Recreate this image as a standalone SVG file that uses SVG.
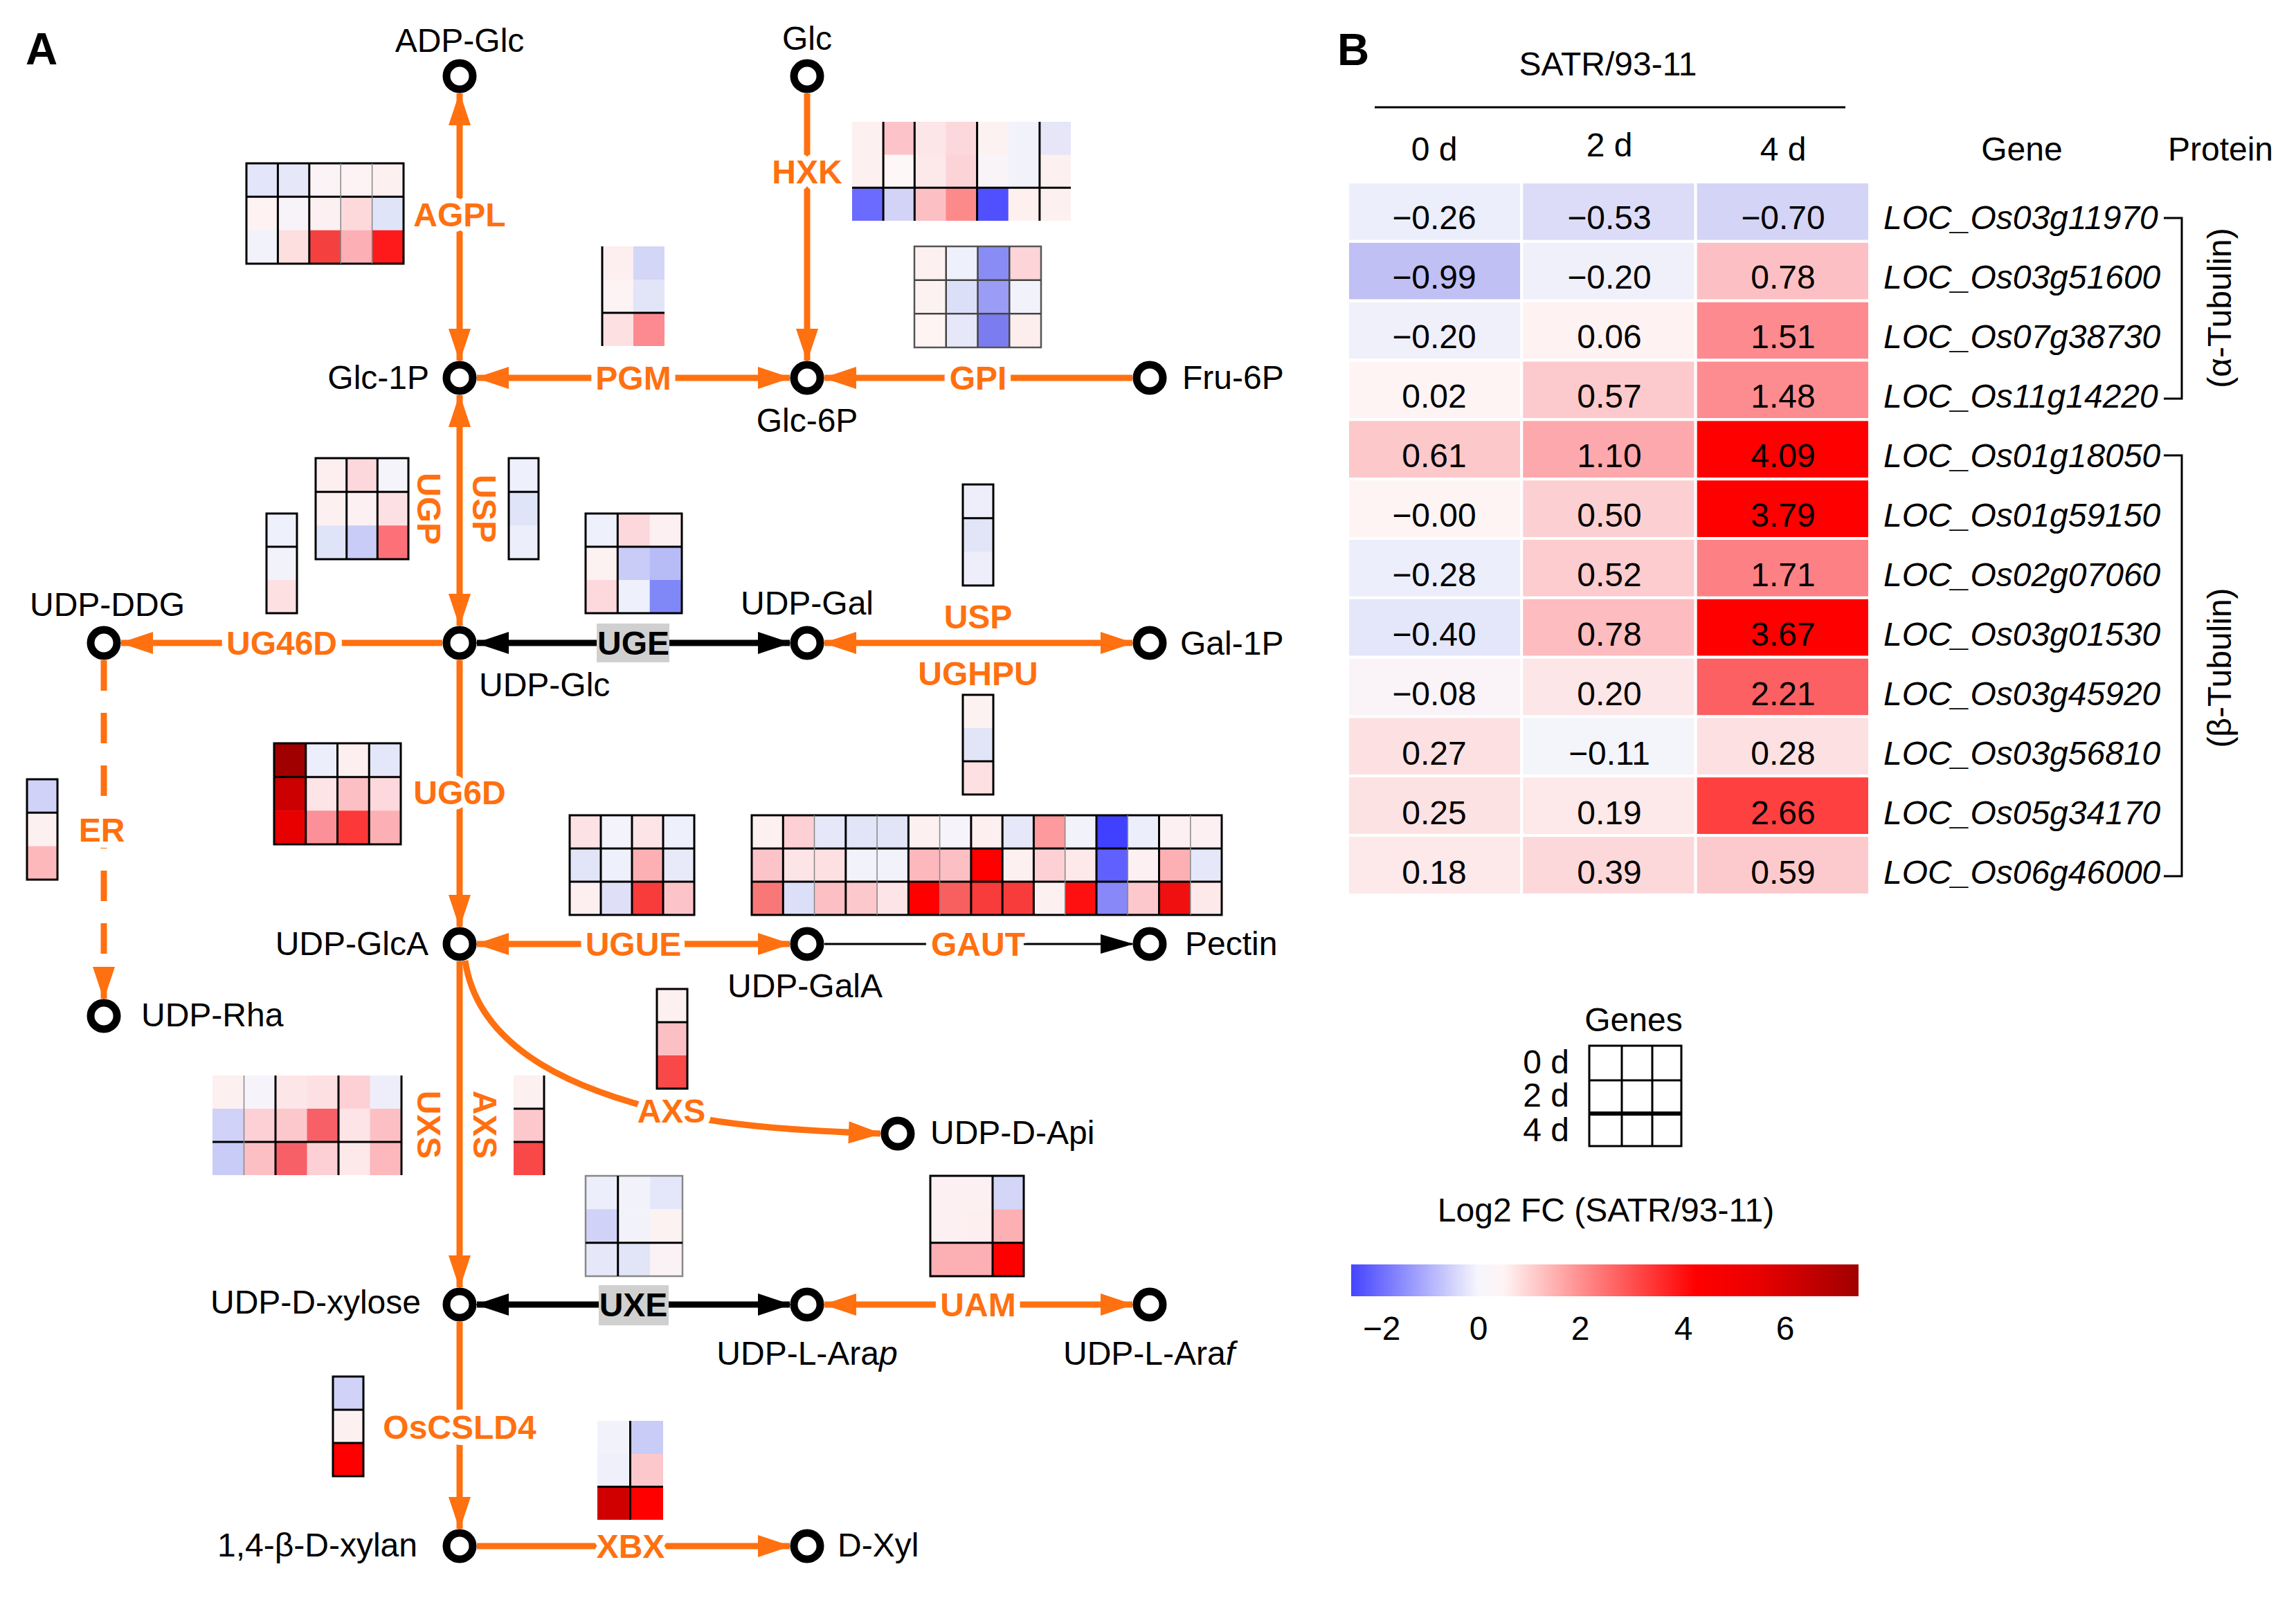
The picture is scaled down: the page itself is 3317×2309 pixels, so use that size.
<svg xmlns="http://www.w3.org/2000/svg" width="3317" height="2309" viewBox="0 0 3317 2309">
<style>
text{font-family:"Liberation Sans",Arial,sans-serif;font-size:48px;fill:#000}
.pl{font-weight:bold;font-size:64px}
.e{fill:none;stroke:#FF7010;stroke-width:9}
.k{fill:none;stroke:#000;stroke-width:9}
.en{font-weight:bold;fill:#FF7010;stroke:#fff;stroke-width:18px;paint-order:stroke;stroke-linejoin:round}
.eb{font-weight:bold;fill:#000}
.nd circle{fill:#fff;stroke:#000;stroke-width:11}
.hl{stroke:#000;stroke-width:3;fill:none}
.hg{stroke:#888;stroke-width:1.5;fill:none}
.bt rect{stroke:#fff;stroke-width:4}
.v{text-anchor:middle}
.gn{font-style:italic}
</style>
<defs>
<marker id="ao" markerUnits="userSpaceOnUse" markerWidth="50" markerHeight="34" refX="46" refY="16" orient="auto-start-reverse" overflow="visible"><path d="M0,0 L48,16 L0,32 Z" fill="#FF7010"/></marker>
<marker id="ak" markerUnits="userSpaceOnUse" markerWidth="50" markerHeight="34" refX="46" refY="16" orient="auto-start-reverse" overflow="visible"><path d="M0,0 L48,16 L0,32 Z" fill="#000"/></marker>
<marker id="as" markerUnits="userSpaceOnUse" markerWidth="50" markerHeight="30" refX="46" refY="14" orient="auto" overflow="visible"><path d="M0,0 L48,14 L0,28 Z" fill="#000"/></marker>
<linearGradient id="cb" x1="0" y1="0" x2="1" y2="0">
<stop offset="0" stop-color="#4444ff"/>
<stop offset="0.25" stop-color="#f6f6fc"/>
<stop offset="0.30" stop-color="#fff4f4"/>
<stop offset="0.45" stop-color="#ff9090"/>
<stop offset="0.68" stop-color="#ff0000"/>
<stop offset="0.8" stop-color="#ea0000"/>
<stop offset="1" stop-color="#a00000"/>
</linearGradient>
</defs>
<rect width="3317" height="2309" fill="#fff"/>
<text class="pl" x="37" y="93">A</text>
<text class="pl" x="1932" y="94">B</text>

<!-- heatmaps panel A -->
<g id="hm-agpl">
<rect x="356" y="236" width="46" height="49" fill="#e3e6fa"/><rect x="401.4" y="236" width="46" height="49" fill="#e6e8fa"/><rect x="446.8" y="236" width="46" height="49" fill="#fbf3f6"/><rect x="492.2" y="236" width="46" height="49" fill="#fdf2f4"/><rect x="537.6" y="236" width="45.4" height="49" fill="#fdf0f0"/>
<rect x="356" y="284.3" width="46" height="49" fill="#fef2f2"/><rect x="401.4" y="284.3" width="46" height="49" fill="#f7f3f8"/><rect x="446.8" y="284.3" width="46" height="49" fill="#fcf0f2"/><rect x="492.2" y="284.3" width="46" height="49" fill="#fdd9dc"/><rect x="537.6" y="284.3" width="45.4" height="49" fill="#e0e4f8"/>
<rect x="356" y="332.7" width="46" height="48.3" fill="#f2f2fb"/><rect x="401.4" y="332.7" width="46" height="48.3" fill="#fddfe0"/><rect x="446.8" y="332.7" width="46" height="48.3" fill="#f54040"/><rect x="492.2" y="332.7" width="46" height="48.3" fill="#fcb0b5"/><rect x="537.6" y="332.7" width="45.4" height="48.3" fill="#fe1a1a"/>
<rect class="hl" x="356" y="236" width="227" height="145"/>
<path class="hl" d="M401.4,236V381M446.8,236V381M356,284.3H583"/>
<path class="hg" d="M492.2,236V381M537.6,236V381"/>
</g>
<g id="hm-hxk">
<rect x="1231" y="176" width="45.6" height="48.2" fill="#fdf0f0"/><rect x="1276.1" y="176" width="45.6" height="48.2" fill="#fcc4c8"/><rect x="1321.3" y="176" width="45.6" height="48.2" fill="#fde6e8"/><rect x="1366.4" y="176" width="45.6" height="48.2" fill="#fcd8dc"/><rect x="1411.6" y="176" width="45.6" height="48.2" fill="#fdf2f2"/><rect x="1456.7" y="176" width="45.6" height="48.2" fill="#f2f2fb"/><rect x="1501.9" y="176" width="45.1" height="48.2" fill="#e6e6f8"/>
<rect x="1231" y="223.7" width="45.6" height="48.2" fill="#fdf0f0"/><rect x="1276.1" y="223.7" width="45.6" height="48.2" fill="#fef7f7"/><rect x="1321.3" y="223.7" width="45.6" height="48.2" fill="#fde8ea"/><rect x="1366.4" y="223.7" width="45.6" height="48.2" fill="#fcd4d8"/><rect x="1411.6" y="223.7" width="45.6" height="48.2" fill="#f8f4f8"/><rect x="1456.7" y="223.7" width="45.6" height="48.2" fill="#f2f2fb"/><rect x="1501.9" y="223.7" width="45.1" height="48.2" fill="#fdf0f0"/>
<rect x="1231" y="271.3" width="45.6" height="47.7" fill="#6b6bff"/><rect x="1276.1" y="271.3" width="45.6" height="47.7" fill="#d3d3f7"/><rect x="1321.3" y="271.3" width="45.6" height="47.7" fill="#fcc0c4"/><rect x="1366.4" y="271.3" width="45.6" height="47.7" fill="#fd8a8a"/><rect x="1411.6" y="271.3" width="45.6" height="47.7" fill="#5050ff"/><rect x="1456.7" y="271.3" width="45.6" height="47.7" fill="#fff0f0"/><rect x="1501.9" y="271.3" width="45.1" height="47.7" fill="#fdf0f0"/>
<path class="hl" d="M1276.1,176V319M1321.3,176V319M1411.6,176V319M1501.9,176V319M1231,271.3H1547"/>
</g>
<g id="hm-pgm">
<rect x="870" y="356" width="45.5" height="48.5" fill="#fdeef0"/><rect x="915" y="356" width="45" height="48.5" fill="#d3d6f6"/>
<rect x="870" y="404" width="45.5" height="48.5" fill="#fdf2f4"/><rect x="915" y="404" width="45" height="48.5" fill="#e2e4f8"/>
<rect x="870" y="452" width="45.5" height="48" fill="#fde0e2"/><rect x="915" y="452" width="45" height="48" fill="#fd8a90"/>
<path class="hl" d="M870,356V500M870,452H960"/>
</g>
<g id="hm-gpi">
<rect x="1321" y="356" width="46.2" height="49.1" fill="#fdf0f0"/><rect x="1366.75" y="356" width="46.2" height="49.1" fill="#eef0fb"/><rect x="1412.5" y="356" width="46.2" height="49.1" fill="#8a8cf5"/><rect x="1458.25" y="356" width="45.75" height="49.1" fill="#fdd4d8"/>
<rect x="1321" y="404.7" width="46.2" height="49.1" fill="#fdf2f2"/><rect x="1366.75" y="404.7" width="46.2" height="49.1" fill="#dcdff8"/><rect x="1412.5" y="404.7" width="46.2" height="49.1" fill="#9a9cf5"/><rect x="1458.25" y="404.7" width="45.75" height="49.1" fill="#f2f2fb"/>
<rect x="1321" y="453.3" width="46.2" height="48.7" fill="#fef4f4"/><rect x="1366.75" y="453.3" width="46.2" height="48.7" fill="#e6e8fa"/><rect x="1412.5" y="453.3" width="46.2" height="48.7" fill="#7a7cf0"/><rect x="1458.25" y="453.3" width="45.75" height="48.7" fill="#fdeeee"/>
<rect x="1321" y="356" width="183" height="146" fill="none" stroke="#555" stroke-width="2.5"/>
<path fill="none" stroke="#444" stroke-width="2.5" d="M1366.75,356V502M1412.5,356V502M1458.25,356V502M1321,404.7H1504M1321,453.3H1504"/>
</g>
<g id="hm-ugp">
<rect x="456" y="662" width="45.1" height="49.1" fill="#fdeef0"/><rect x="500.7" y="662" width="45.1" height="49.1" fill="#fcd8dc"/><rect x="545.3" y="662" width="44.7" height="49.1" fill="#f4f4fa"/>
<rect x="456" y="710.7" width="45.1" height="49.1" fill="#fdf0f0"/><rect x="500.7" y="710.7" width="45.1" height="49.1" fill="#fdf0f2"/><rect x="545.3" y="710.7" width="44.7" height="49.1" fill="#fce0e4"/>
<rect x="456" y="759.3" width="45.1" height="48.7" fill="#e0e4f8"/><rect x="500.7" y="759.3" width="45.1" height="48.7" fill="#c8ccf6"/><rect x="545.3" y="759.3" width="44.7" height="48.7" fill="#fd7078"/>
<rect class="hl" x="456" y="662" width="134" height="146"/>
<path class="hl" d="M500.7,662V808M545.3,662V808M456,710.7H590"/>
</g>
<g id="hm-usp1">
<rect x="735" y="662" width="43" height="49.1" fill="#eef0fb"/><rect x="735" y="710.7" width="43" height="49.1" fill="#e0e4f8"/><rect x="735" y="759.3" width="43" height="48.7" fill="#eceefb"/>
<rect class="hl" x="735" y="662" width="43" height="146"/><path class="hl" d="M735,710.7H778"/>
</g>
<g id="hm-ug46d">
<rect x="385" y="742" width="44" height="48.5" fill="#eef0fb"/><rect x="385" y="790" width="44" height="48.5" fill="#f2f2fb"/><rect x="385" y="838" width="44" height="48" fill="#fde0e2"/>
<rect class="hl" x="385" y="742" width="44" height="144"/><path class="hl" d="M385,790H429"/>
</g>
<g id="hm-uge">
<rect x="846" y="742" width="46.8" height="48.5" fill="#eef0fb"/><rect x="892.3" y="742" width="46.8" height="48.5" fill="#fcd8dc"/><rect x="938.7" y="742" width="46.3" height="48.5" fill="#fdf0f2"/>
<rect x="846" y="790" width="46.8" height="48.5" fill="#fdf2f2"/><rect x="892.3" y="790" width="46.8" height="48.5" fill="#c8ccf6"/><rect x="938.7" y="790" width="46.3" height="48.5" fill="#b8bcf6"/>
<rect x="846" y="838" width="46.8" height="48" fill="#fdd8dc"/><rect x="892.3" y="838" width="46.8" height="48" fill="#eef0fb"/><rect x="938.7" y="838" width="46.3" height="48" fill="#8088f8"/>
<rect class="hl" x="846" y="742" width="139" height="144"/><path class="hl" d="M892.3,742V886M846,790H985"/>
</g>
<g id="hm-usp2">
<rect x="1391" y="700" width="44" height="49.1" fill="#eeeefb"/><rect x="1391" y="748.7" width="44" height="49.1" fill="#e2e4f8"/><rect x="1391" y="797.3" width="44" height="48.7" fill="#eeeefb"/>
<rect class="hl" x="1391" y="700" width="44" height="146"/><path class="hl" d="M1391,748.7H1435"/>
</g>
<g id="hm-ughpu">
<rect x="1391" y="1004" width="44" height="48.5" fill="#fdf2f2"/><rect x="1391" y="1052" width="44" height="48.5" fill="#e2e4f8"/><rect x="1391" y="1100" width="44" height="48" fill="#fde0e2"/>
<rect class="hl" x="1391" y="1004" width="44" height="144"/><path class="hl" d="M1391,1100H1435"/>
</g>
<g id="hm-er">
<rect x="39" y="1126" width="44" height="48.8" fill="#d0d2f8"/><rect x="39" y="1174.3" width="44" height="48.8" fill="#fdf0f0"/><rect x="39" y="1222.7" width="44" height="48.3" fill="#fdb8bc"/>
<rect class="hl" x="39" y="1126" width="44" height="145"/><path class="hl" d="M39,1174.3H83"/>
</g>
<g id="hm-ug6d">
<rect x="396" y="1074" width="46.2" height="49.1" fill="#a00000"/><rect x="441.75" y="1074" width="46.2" height="49.1" fill="#eceefb"/><rect x="487.5" y="1074" width="46.2" height="49.1" fill="#fdeef0"/><rect x="533.25" y="1074" width="45.75" height="49.1" fill="#e4e6fa"/>
<rect x="396" y="1122.7" width="46.2" height="49.1" fill="#cc0000"/><rect x="441.75" y="1122.7" width="46.2" height="49.1" fill="#fde4e6"/><rect x="487.5" y="1122.7" width="46.2" height="49.1" fill="#fcc0c4"/><rect x="533.25" y="1122.7" width="45.75" height="49.1" fill="#fdd8dc"/>
<rect x="396" y="1171.3" width="46.2" height="48.7" fill="#e80000"/><rect x="441.75" y="1171.3" width="46.2" height="48.7" fill="#fc9098"/><rect x="487.5" y="1171.3" width="46.2" height="48.7" fill="#fd3838"/><rect x="533.25" y="1171.3" width="45.75" height="48.7" fill="#fcb0b4"/>
<rect class="hl" x="396" y="1074" width="183" height="146"/><path class="hl" d="M441.75,1074V1220M487.5,1074V1220M533.25,1074V1220M396,1122.7H579"/>
</g>
<g id="hm-ugue">
<rect x="823" y="1178" width="45.5" height="48.5" fill="#fde2e4"/><rect x="868" y="1178" width="45.5" height="48.5" fill="#f4f2fa"/><rect x="913" y="1178" width="45.5" height="48.5" fill="#fde4e6"/><rect x="958" y="1178" width="45" height="48.5" fill="#eef0fb"/>
<rect x="823" y="1226" width="45.5" height="48.5" fill="#e2e4f8"/><rect x="868" y="1226" width="45.5" height="48.5" fill="#eef0fb"/><rect x="913" y="1226" width="45.5" height="48.5" fill="#fcb0b4"/><rect x="958" y="1226" width="45" height="48.5" fill="#e8eafa"/>
<rect x="823" y="1274" width="45.5" height="48" fill="#fdeef0"/><rect x="868" y="1274" width="45.5" height="48" fill="#dfe0f8"/><rect x="913" y="1274" width="45.5" height="48" fill="#f83c3c"/><rect x="958" y="1274" width="45" height="48" fill="#fcc4c8"/>
<rect class="hl" x="823" y="1178" width="180" height="144"/><path class="hl" d="M868,1178V1322M913,1178V1322M958,1178V1322M823,1226H1003M823,1274H1003"/>
</g>
<g id="hm-gaut">
<rect x="1086" y="1178" width="45.8" height="48.5" fill="#fdf0f0"/><rect x="1131.3" y="1178" width="45.8" height="48.5" fill="#fcd0d4"/><rect x="1176.5" y="1178" width="45.8" height="48.5" fill="#e6e8fa"/><rect x="1221.8" y="1178" width="45.8" height="48.5" fill="#e2e4f8"/><rect x="1267.1" y="1178" width="45.8" height="48.5" fill="#e2e4f8"/><rect x="1312.4" y="1178" width="45.8" height="48.5" fill="#fdf0f0"/><rect x="1357.6" y="1178" width="45.8" height="48.5" fill="#f6f4fa"/><rect x="1402.9" y="1178" width="45.8" height="48.5" fill="#fdeef0"/><rect x="1448.2" y="1178" width="45.8" height="48.5" fill="#e6e8fa"/><rect x="1493.4" y="1178" width="45.8" height="48.5" fill="#fc9a9e"/><rect x="1538.7" y="1178" width="45.8" height="48.5" fill="#f2f2fb"/><rect x="1584" y="1178" width="45.8" height="48.5" fill="#4040ff"/><rect x="1629.2" y="1178" width="45.8" height="48.5" fill="#eceefb"/><rect x="1674.5" y="1178" width="45.8" height="48.5" fill="#fdf0f2"/><rect x="1719.8" y="1178" width="45.2" height="48.5" fill="#fdf0f2"/>
<rect x="1086" y="1226" width="45.8" height="48.5" fill="#fcc4c8"/><rect x="1131.3" y="1226" width="45.8" height="48.5" fill="#fde4e6"/><rect x="1176.5" y="1226" width="45.8" height="48.5" fill="#fde0e2"/><rect x="1221.8" y="1226" width="45.8" height="48.5" fill="#f2f2fb"/><rect x="1267.1" y="1226" width="45.8" height="48.5" fill="#f2f2fb"/><rect x="1312.4" y="1226" width="45.8" height="48.5" fill="#fcb8bc"/><rect x="1357.6" y="1226" width="45.8" height="48.5" fill="#fcc0c4"/><rect x="1402.9" y="1226" width="45.8" height="48.5" fill="#ff0000"/><rect x="1448.2" y="1226" width="45.8" height="48.5" fill="#fdf0f0"/><rect x="1493.4" y="1226" width="45.8" height="48.5" fill="#fcd0d4"/><rect x="1538.7" y="1226" width="45.8" height="48.5" fill="#fde8ea"/><rect x="1584" y="1226" width="45.8" height="48.5" fill="#6060ff"/><rect x="1629.2" y="1226" width="45.8" height="48.5" fill="#fdf0f2"/><rect x="1674.5" y="1226" width="45.8" height="48.5" fill="#fcb0b4"/><rect x="1719.8" y="1226" width="45.2" height="48.5" fill="#e6e8fa"/>
<rect x="1086" y="1274" width="45.8" height="48" fill="#f87878"/><rect x="1131.3" y="1274" width="45.8" height="48" fill="#dcdff8"/><rect x="1176.5" y="1274" width="45.8" height="48" fill="#fcc0c4"/><rect x="1221.8" y="1274" width="45.8" height="48" fill="#fcc8cc"/><rect x="1267.1" y="1274" width="45.8" height="48" fill="#fde4e6"/><rect x="1312.4" y="1274" width="45.8" height="48" fill="#ff0000"/><rect x="1357.6" y="1274" width="45.8" height="48" fill="#f86060"/><rect x="1402.9" y="1274" width="45.8" height="48" fill="#f83c3c"/><rect x="1448.2" y="1274" width="45.8" height="48" fill="#f83c3c"/><rect x="1493.4" y="1274" width="45.8" height="48" fill="#fdf0f0"/><rect x="1538.7" y="1274" width="45.8" height="48" fill="#ff1010"/><rect x="1584" y="1274" width="45.8" height="48" fill="#8888f8"/><rect x="1629.2" y="1274" width="45.8" height="48" fill="#fcc8cc"/><rect x="1674.5" y="1274" width="45.8" height="48" fill="#f01010"/><rect x="1719.8" y="1274" width="45.2" height="48" fill="#fde8ea"/>
<rect class="hl" x="1086" y="1178" width="679" height="144"/>
<path class="hl" d="M1131.3,1178V1322M1221.8,1178V1322M1312.4,1178V1322M1402.9,1178V1322M1448.2,1178V1322M1493.4,1178V1322M1584,1178V1322M1674.5,1178V1322M1086,1226H1765M1086,1274H1765"/>
<path class="hg" d="M1176.5,1178V1322M1267.1,1178V1322M1357.6,1178V1322M1538.7,1178V1322M1629.2,1178V1322M1719.8,1178V1322"/>
</g>
<g id="hm-axs1">
<rect x="949" y="1429" width="44" height="48.5" fill="#fdf0f0"/><rect x="949" y="1477" width="44" height="48.5" fill="#fcc0c4"/><rect x="949" y="1525" width="44" height="48" fill="#f84848"/>
<rect class="hl" x="949" y="1429" width="44" height="144"/><path class="hl" d="M949,1477H993"/>
</g>
<g id="hm-uxs">
<rect x="307" y="1554" width="46" height="48.5" fill="#fdf0f0"/><rect x="352.5" y="1554" width="46" height="48.5" fill="#f6f4fa"/><rect x="398" y="1554" width="46" height="48.5" fill="#fde6e8"/><rect x="443.5" y="1554" width="46" height="48.5" fill="#fde0e2"/><rect x="489" y="1554" width="46" height="48.5" fill="#fcd0d4"/><rect x="534.5" y="1554" width="45.5" height="48.5" fill="#eeeefb"/>
<rect x="307" y="1602" width="46" height="48.5" fill="#d0d2f8"/><rect x="352.5" y="1602" width="46" height="48.5" fill="#fcd0d4"/><rect x="398" y="1602" width="46" height="48.5" fill="#fcc8cc"/><rect x="443.5" y="1602" width="46" height="48.5" fill="#f86068"/><rect x="489" y="1602" width="46" height="48.5" fill="#fde4e6"/><rect x="534.5" y="1602" width="45.5" height="48.5" fill="#fcc0c4"/>
<rect x="307" y="1650" width="46" height="48" fill="#c8ccf6"/><rect x="352.5" y="1650" width="46" height="48" fill="#fcc0c4"/><rect x="398" y="1650" width="46" height="48" fill="#f86068"/><rect x="443.5" y="1650" width="46" height="48" fill="#fcd0d4"/><rect x="489" y="1650" width="46" height="48" fill="#fde8ea"/><rect x="534.5" y="1650" width="45.5" height="48" fill="#fcb8bc"/>
<path class="hl" d="M398,1554V1698M489,1554V1698M580,1554V1698M307,1650H580"/>
<path class="hg" d="M352.5,1554V1698"/>
</g>
<g id="hm-axs2">
<rect x="742" y="1554" width="44" height="48.5" fill="#fdf0f0"/><rect x="742" y="1602" width="44" height="48.5" fill="#fcc8cc"/><rect x="742" y="1650" width="44" height="48" fill="#f84848"/>
<path class="hl" d="M786,1554V1698M742,1602H786M742,1650H786"/>
</g>
<g id="hm-uxe">
<rect x="846" y="1699" width="47.1" height="48.8" fill="#eceefb"/><rect x="892.7" y="1699" width="47.1" height="48.8" fill="#f2f2fb"/><rect x="939.3" y="1699" width="46.7" height="48.8" fill="#e4e6fa"/>
<rect x="846" y="1747.3" width="47.1" height="48.8" fill="#d0d2f8"/><rect x="892.7" y="1747.3" width="47.1" height="48.8" fill="#f2f2fb"/><rect x="939.3" y="1747.3" width="46.7" height="48.8" fill="#fdf2f2"/>
<rect x="846" y="1795.7" width="47.1" height="48.3" fill="#e6e8fa"/><rect x="892.7" y="1795.7" width="47.1" height="48.3" fill="#e2e4f8"/><rect x="939.3" y="1795.7" width="46.7" height="48.3" fill="#fbf2f6"/>
<rect x="846" y="1699" width="140" height="145" fill="none" stroke="#888" stroke-width="2.5"/>
<path class="hl" d="M892.7,1699V1844M846,1795.7H986"/>
</g>
<g id="hm-uam">
<rect x="1344" y="1699" width="45.5" height="48.8" fill="#fdf0f2"/><rect x="1389" y="1699" width="45.5" height="48.8" fill="#fdf0f2"/><rect x="1434" y="1699" width="45" height="48.8" fill="#d4d6f8"/>
<rect x="1344" y="1747.3" width="45.5" height="48.8" fill="#fdf0f2"/><rect x="1389" y="1747.3" width="45.5" height="48.8" fill="#fdeef0"/><rect x="1434" y="1747.3" width="45" height="48.8" fill="#fcb0b4"/>
<rect x="1344" y="1795.7" width="45.5" height="48.3" fill="#fcb0b4"/><rect x="1389" y="1795.7" width="45.5" height="48.3" fill="#fcb0b4"/><rect x="1434" y="1795.7" width="45" height="48.3" fill="#ff0000"/>
<rect class="hl" x="1344" y="1699" width="135" height="145"/>
<path class="hl" d="M1434,1699V1844M1344,1795.7H1479"/>
</g>
<g id="hm-oscsld4">
<rect x="481" y="1989" width="44" height="48.5" fill="#d0d2f8"/><rect x="481" y="2037" width="44" height="48.5" fill="#fdf0f0"/><rect x="481" y="2085" width="44" height="48" fill="#ff0000"/>
<rect class="hl" x="481" y="1989" width="44" height="144"/><path class="hl" d="M481,2037H525M481,2085H525"/>
</g>
<g id="hm-xbx">
<rect x="863" y="2053" width="48" height="48.2" fill="#f2f2fb"/><rect x="910.5" y="2053" width="47.5" height="48.2" fill="#c8ccf6"/>
<rect x="863" y="2100.7" width="48" height="48.2" fill="#f0f0fb"/><rect x="910.5" y="2100.7" width="47.5" height="48.2" fill="#fcc8cc"/>
<rect x="863" y="2148.3" width="48" height="47.7" fill="#d00000"/><rect x="910.5" y="2148.3" width="47.5" height="47.7" fill="#ff0000"/>
<path class="hl" d="M910.5,2053V2196M863,2148.3H958"/>
</g>

<!-- connectors -->
<g id="connectors">
<path class="e" d="M664,135V521" marker-start="url(#ao)" marker-end="url(#ao)"/>
<path class="e" d="M1166,135V521" marker-end="url(#ao)"/>
<path class="e" d="M689,546H1141" marker-start="url(#ao)" marker-end="url(#ao)"/>
<path class="e" d="M1636,546H1191" marker-end="url(#ao)"/>
<path class="e" d="M664,571V904" marker-start="url(#ao)" marker-end="url(#ao)"/>
<path class="e" d="M639,929H175" marker-end="url(#ao)"/>
<path class="k" d="M689,929H1141" marker-start="url(#ak)" marker-end="url(#ak)"/>
<path class="e" d="M1191,929H1636" marker-start="url(#ao)" marker-end="url(#ao)"/>
<path class="e" d="M150,954V1443" stroke-dasharray="44 32" marker-end="url(#ao)"/>
<path class="e" d="M664,954V1339" marker-end="url(#ao)"/>
<path class="e" d="M689,1364H1141" marker-start="url(#ao)" marker-end="url(#ao)"/>
<path d="M1191,1364H1636" fill="none" stroke="#000" stroke-width="3" marker-end="url(#as)"/>
<path class="e" d="M672,1388 C692,1525 850,1580 970,1608 C1060,1628 1160,1634 1272,1638" marker-end="url(#ao)"/>
<path class="e" d="M664,1389V1860" marker-end="url(#ao)"/>
<path class="k" d="M689,1885H1141" marker-start="url(#ak)" marker-end="url(#ak)"/>
<path class="e" d="M1191,1885H1636" marker-start="url(#ao)" marker-end="url(#ao)"/>
<path class="e" d="M664,1910V2209" marker-end="url(#ao)"/>
<path class="e" d="M689,2234H1141" marker-end="url(#ao)"/>
<!-- enzyme labels -->
<text class="en v" x="664" y="327">AGPL</text>
<text class="en v" x="1166" y="265">HXK</text>
<text class="en v" x="915" y="563">PGM</text>
<text class="en v" x="1413" y="563">GPI</text>
<text class="en v" transform="translate(603,735) rotate(90)">UGP</text>
<text class="en v" transform="translate(683,735) rotate(90)">USP</text>
<text class="en v" x="407" y="946">UG46D</text>
<rect x="862" y="901" width="105" height="56" fill="#d0d0d0"/>
<text class="eb v" x="915" y="946">UGE</text>
<text class="en v" x="1413" y="908">USP</text>
<text class="en v" x="1413" y="990">UGHPU</text>
<text class="en v" x="147" y="1216">ER</text>
<text class="en v" x="664" y="1162">UG6D</text>
<text class="en v" x="915" y="1381">UGUE</text>
<text class="en v" x="1413" y="1381">GAUT</text>
<text class="en v" x="970" y="1622">AXS</text>
<text class="en v" transform="translate(603,1625) rotate(90)">UXS</text>
<text class="en v" transform="translate(684,1625) rotate(90)">AXS</text>
<rect x="865" y="1857" width="101" height="58" fill="#d0d0d0"/>
<text class="eb v" x="915" y="1902">UXE</text>
<text class="en v" x="1413" y="1902">UAM</text>
<text class="en v" x="664" y="2079">OsCSLD4</text>
<text class="en v" x="911" y="2251">XBX</text>
</g>

<!-- nodes -->
<g id="n-adpglc" class="nd"><circle cx="664" cy="110" r="19"/><text class="v" x="664" y="75">ADP-Glc</text></g>
<g id="n-glc" class="nd"><circle cx="1166" cy="110" r="19"/><text class="v" x="1166" y="72">Glc</text></g>
<g id="n-glc1p" class="nd"><circle cx="664" cy="546" r="19"/><text x="620" y="562" text-anchor="end">Glc-1P</text></g>
<g id="n-glc6p" class="nd"><circle cx="1166" cy="546" r="19"/><text class="v" x="1166" y="624">Glc-6P</text></g>
<g id="n-fru6p" class="nd"><circle cx="1661" cy="546" r="19"/><text x="1708" y="562">Fru-6P</text></g>
<g id="n-udpddg" class="nd"><circle cx="150" cy="929" r="19"/><text class="v" x="155" y="890">UDP-DDG</text></g>
<g id="n-udpglc" class="nd"><circle cx="664" cy="929" r="19"/><text x="692" y="1006">UDP-Glc</text></g>
<g id="n-udpgal" class="nd"><circle cx="1166" cy="929" r="19"/><text class="v" x="1166" y="888">UDP-Gal</text></g>
<g id="n-gal1p" class="nd"><circle cx="1661" cy="929" r="19"/><text x="1705" y="946">Gal-1P</text></g>
<g id="n-udprha" class="nd"><circle cx="150" cy="1468" r="19"/><text x="204" y="1483">UDP-Rha</text></g>
<g id="n-udpglca" class="nd"><circle cx="664" cy="1364" r="19"/><text x="619" y="1380" text-anchor="end">UDP-GlcA</text></g>
<g id="n-udpgala" class="nd"><circle cx="1166" cy="1364" r="19"/><text class="v" x="1163" y="1441">UDP-GalA</text></g>
<g id="n-pectin" class="nd"><circle cx="1661" cy="1364" r="19"/><text x="1712" y="1380">Pectin</text></g>
<g id="n-udpdapi" class="nd"><circle cx="1297" cy="1638" r="19"/><text x="1344" y="1653">UDP-D-Api</text></g>
<g id="n-udpdxylose" class="nd"><circle cx="664" cy="1885" r="19"/><text x="608" y="1898" text-anchor="end">UDP-D-xylose</text></g>
<g id="n-udplarap" class="nd"><circle cx="1166" cy="1885" r="19"/><text class="v" x="1166" y="1972">UDP-L-Ara<tspan font-style="italic">p</tspan></text></g>
<g id="n-udplaraf" class="nd"><circle cx="1661" cy="1885" r="19"/><text class="v" x="1660" y="1972">UDP-L-Ara<tspan font-style="italic">f</tspan></text></g>
<g id="n-xylan" class="nd"><circle cx="664" cy="2234" r="19"/><text x="603" y="2249" text-anchor="end">1,4-β-D-xylan</text></g>
<g id="n-dxyl" class="nd"><circle cx="1166" cy="2234" r="19"/><text x="1210" y="2249">D-Xyl</text></g>

<!-- Panel B -->
<g id="panelB-header">
<text class="v" x="2323" y="109">SATR/93-11</text>
<path d="M1986,155H2666" stroke="#000" stroke-width="3"/>
<text class="v" x="2072" y="232">0 d</text>
<text class="v" x="2325" y="226">2 d</text>
<text class="v" x="2576" y="232">4 d</text>
<text class="v" x="2921" y="232">Gene</text>
<text class="v" x="3208" y="232">Protein</text>
</g>
<g id="panelB-table" class="bt">
<rect x="1947" y="263" width="251.3" height="85.8" fill="#eceefb"/><rect x="2198.3" y="263" width="251.3" height="85.8" fill="#dcdcf8"/><rect x="2449.7" y="263" width="251.3" height="85.8" fill="#d4d4f6"/>
<rect x="1947" y="348.8" width="251.3" height="85.8" fill="#c0c0f4"/><rect x="2198.3" y="348.8" width="251.3" height="85.8" fill="#f0f0fb"/><rect x="2449.7" y="348.8" width="251.3" height="85.8" fill="#fcc0c4"/>
<rect x="1947" y="434.7" width="251.3" height="85.8" fill="#f0f0fb"/><rect x="2198.3" y="434.7" width="251.3" height="85.8" fill="#fef2f2"/><rect x="2449.7" y="434.7" width="251.3" height="85.8" fill="#fc8a8e"/>
<rect x="1947" y="520.5" width="251.3" height="85.8" fill="#fef4f4"/><rect x="2198.3" y="520.5" width="251.3" height="85.8" fill="#fccacc"/><rect x="2449.7" y="520.5" width="251.3" height="85.8" fill="#fc8c90"/>
<rect x="1947" y="606.3" width="251.3" height="85.8" fill="#fcc8ca"/><rect x="2198.3" y="606.3" width="251.3" height="85.8" fill="#fca8ac"/><rect x="2449.7" y="606.3" width="251.3" height="85.8" fill="#ff0000"/>
<rect x="1947" y="692.2" width="251.3" height="85.8" fill="#fef4f4"/><rect x="2198.3" y="692.2" width="251.3" height="85.8" fill="#fcd0d2"/><rect x="2449.7" y="692.2" width="251.3" height="85.8" fill="#ff0000"/>
<rect x="1947" y="778" width="251.3" height="85.8" fill="#eceefb"/><rect x="2198.3" y="778" width="251.3" height="85.8" fill="#fccccf"/><rect x="2449.7" y="778" width="251.3" height="85.8" fill="#fc8084"/>
<rect x="1947" y="863.8" width="251.3" height="85.8" fill="#e4e6fa"/><rect x="2198.3" y="863.8" width="251.3" height="85.8" fill="#fcbcc0"/><rect x="2449.7" y="863.8" width="251.3" height="85.8" fill="#ff0000"/>
<rect x="1947" y="949.7" width="251.3" height="85.8" fill="#faf4f8"/><rect x="2198.3" y="949.7" width="251.3" height="85.8" fill="#fde6e8"/><rect x="2449.7" y="949.7" width="251.3" height="85.8" fill="#fc6062"/>
<rect x="1947" y="1035.5" width="251.3" height="85.8" fill="#fde0e2"/><rect x="2198.3" y="1035.5" width="251.3" height="85.8" fill="#f4f4fb"/><rect x="2449.7" y="1035.5" width="251.3" height="85.8" fill="#fde0e2"/>
<rect x="1947" y="1121.3" width="251.3" height="85.8" fill="#fde2e4"/><rect x="2198.3" y="1121.3" width="251.3" height="85.8" fill="#fde8ea"/><rect x="2449.7" y="1121.3" width="251.3" height="85.8" fill="#ff4040"/>
<rect x="1947" y="1207.2" width="251.3" height="85.8" fill="#fde8ea"/><rect x="2198.3" y="1207.2" width="251.3" height="85.8" fill="#fcd8da"/><rect x="2449.7" y="1207.2" width="251.3" height="85.8" fill="#fccacc"/>
</g>
<g id="panelB-values">
<text class="v" x="2072" y="331">−0.26</text><text class="v" x="2325" y="331">−0.53</text><text class="v" x="2576" y="331">−0.70</text>
<text class="v" x="2072" y="417">−0.99</text><text class="v" x="2325" y="417">−0.20</text><text class="v" x="2576" y="417">0.78</text>
<text class="v" x="2072" y="503">−0.20</text><text class="v" x="2325" y="503">0.06</text><text class="v" x="2576" y="503">1.51</text>
<text class="v" x="2072" y="589">0.02</text><text class="v" x="2325" y="589">0.57</text><text class="v" x="2576" y="589">1.48</text>
<text class="v" x="2072" y="675">0.61</text><text class="v" x="2325" y="675">1.10</text><text class="v" x="2576" y="675" fill="#3a0000">4.09</text>
<text class="v" x="2072" y="761">−0.00</text><text class="v" x="2325" y="761">0.50</text><text class="v" x="2576" y="761" fill="#3a0000">3.79</text>
<text class="v" x="2072" y="847">−0.28</text><text class="v" x="2325" y="847">0.52</text><text class="v" x="2576" y="847">1.71</text>
<text class="v" x="2072" y="933">−0.40</text><text class="v" x="2325" y="933">0.78</text><text class="v" x="2576" y="933" fill="#3a0000">3.67</text>
<text class="v" x="2072" y="1019">−0.08</text><text class="v" x="2325" y="1019">0.20</text><text class="v" x="2576" y="1019">2.21</text>
<text class="v" x="2072" y="1105">0.27</text><text class="v" x="2325" y="1105">−0.11</text><text class="v" x="2576" y="1105">0.28</text>
<text class="v" x="2072" y="1191">0.25</text><text class="v" x="2325" y="1191">0.19</text><text class="v" x="2576" y="1191">2.66</text>
<text class="v" x="2072" y="1277">0.18</text><text class="v" x="2325" y="1277">0.39</text><text class="v" x="2576" y="1277">0.59</text>
</g>
<g id="panelB-genes">
<text class="gn" x="2721" y="331">LOC_Os03g11970</text>
<text class="gn" x="2721" y="417">LOC_Os03g51600</text>
<text class="gn" x="2721" y="503">LOC_Os07g38730</text>
<text class="gn" x="2721" y="589">LOC_Os11g14220</text>
<text class="gn" x="2721" y="675">LOC_Os01g18050</text>
<text class="gn" x="2721" y="761">LOC_Os01g59150</text>
<text class="gn" x="2721" y="847">LOC_Os02g07060</text>
<text class="gn" x="2721" y="933">LOC_Os03g01530</text>
<text class="gn" x="2721" y="1019">LOC_Os03g45920</text>
<text class="gn" x="2721" y="1105">LOC_Os03g56810</text>
<text class="gn" x="2721" y="1191">LOC_Os05g34170</text>
<text class="gn" x="2721" y="1277">LOC_Os06g46000</text>
</g>
<g id="panelB-brackets">
<path d="M3126,315H3152V576H3126M3126,658H3152V1266H3126" fill="none" stroke="#000" stroke-width="3"/>
<text class="v" transform="translate(3223,445) rotate(-90)">(α-Tubulin)</text>
<text class="v" transform="translate(3223,965) rotate(-90)">(β-Tubulin)</text>
</g>
<g id="legend-genes">
<text class="v" x="2360" y="1490">Genes</text>
<rect class="hl" x="2296" y="1511" width="133" height="145"/>
<path class="hl" d="M2343,1511V1656M2387,1511V1656M2296,1561H2429"/>
<path d="M2296,1609H2429" stroke="#000" stroke-width="6"/>
<text x="2267" y="1551" text-anchor="end" font-size="46">0 d</text>
<text x="2267" y="1599" text-anchor="end" font-size="46">2 d</text>
<text x="2267" y="1649" text-anchor="end" font-size="46">4 d</text>
</g>
<g id="legend-colorbar">
<text class="v" x="2320" y="1765">Log2 FC (SATR/93-11)</text>
<rect x="1952" y="1827" width="733" height="46" fill="url(#cb)"/>
<text class="v" x="1996" y="1936">−2</text>
<text class="v" x="2136" y="1936">0</text>
<text class="v" x="2283" y="1936">2</text>
<text class="v" x="2432" y="1936">4</text>
<text class="v" x="2579" y="1936">6</text>
</g>
</svg>
